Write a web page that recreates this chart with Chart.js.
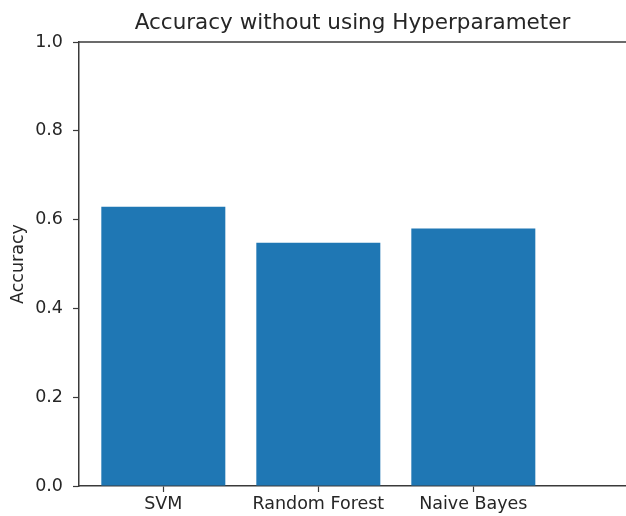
<!DOCTYPE html>
<html>
<head>
<meta charset="utf-8">
<script src="https://cdn.jsdelivr.net/npm/chart.js@4"></script>
<style>
  html, body { margin: 0; padding: 0; background: #fff; overflow: hidden; }
  canvas { display: block; }
</style>
</head>
<body>
<canvas id="myChart" width="626" height="516"></canvas>
<script>
const categories = ['SVM', 'Random Forest', 'Naive Bayes'];
const accuracy = [0.629, 0.548, 0.580];
const yTicks = [0.0, 0.2, 0.4, 0.6, 0.8, 1.0];
const titleText = 'Accuracy without using Hyperparameter';

const textColor = '#262626';
const spineColor = '#3a3a3a';
const fontFamily = '"DejaVu Sans", sans-serif';

// top spine + title centred over the plot area, like matplotlib
const axesDecor = {
    id: 'axesDecor',
    afterDraw(chart) {
        const {ctx, chartArea} = chart;
        ctx.save();
        ctx.strokeStyle = spineColor;
        ctx.lineWidth = 1.5;
        ctx.beginPath();
        ctx.moveTo(chartArea.left, chartArea.top);
        ctx.lineTo(chartArea.right, chartArea.top);
        ctx.stroke();
        ctx.fillStyle = textColor;
        ctx.font = '21.5px ' + fontFamily;
        ctx.textAlign = 'center';
        ctx.textBaseline = 'alphabetic';
        ctx.fillText(titleText, (chartArea.left + chartArea.right) / 2, chartArea.top - 13);
        ctx.restore();
    }
};

const ctxEL = document.getElementById('myChart').getContext('2d');
new Chart(ctxEL, {
    type: 'bar',
    data: {
        datasets: [{
            data: categories.map((c, i) => ({x: i, y: accuracy[i]})),
            backgroundColor: '#1f77b4',
            borderWidth: 0,
            categoryPercentage: 1,
            barPercentage: 0.8
        }]
    },
    options: {
        responsive: false,
        animation: false,
        layout: {padding: {top: 42, left: 0, right: 0, bottom: 0}},
        plugins: {
            legend: {display: false},
            tooltip: {enabled: false},
            title: {display: false}
        },
        scales: {
            x: {
                type: 'linear',
                offset: false,
                min: -0.544,
                max: 2.985,
                afterBuildTicks: scale => {
                    scale.ticks = categories.map((c, i) => ({value: i}));
                },
                afterFit: scale => { scale.height = 30; },
                grid: {
                    offset: false,
                    drawOnChartArea: false,
                    drawTicks: true,
                    tickLength: 6,
                    tickWidth: 1.2,
                    tickColor: spineColor
                },
                border: {display: true, color: spineColor, width: 1.5},
                ticks: {
                    color: textColor,
                    font: {family: fontFamily, size: 17.5},
                    padding: 2,
                    maxRotation: 0,
                    autoSkip: false,
                    callback: v => categories[v]
                }
            },
            y: {
                min: 0,
                max: 1,
                afterBuildTicks: scale => {
                    scale.ticks = yTicks.map(v => ({value: v}));
                },
                afterFit: scale => { scale.width = 79; },
                grid: {
                    drawOnChartArea: false,
                    drawTicks: true,
                    tickLength: 6,
                    tickWidth: 1.2,
                    tickColor: spineColor
                },
                border: {display: true, color: spineColor, width: 1.5},
                title: {
                    display: true,
                    text: 'Accuracy',
                    color: textColor,
                    font: {family: fontFamily, size: 17.5},
                    padding: {top: 8, bottom: 0}
                },
                ticks: {
                    color: textColor,
                    font: {family: fontFamily, size: 17.5},
                    padding: 10,
                    callback: v => v.toFixed(1)
                }
            }
        }
    },
    plugins: [axesDecor]
});
</script>
</body>
</html>
